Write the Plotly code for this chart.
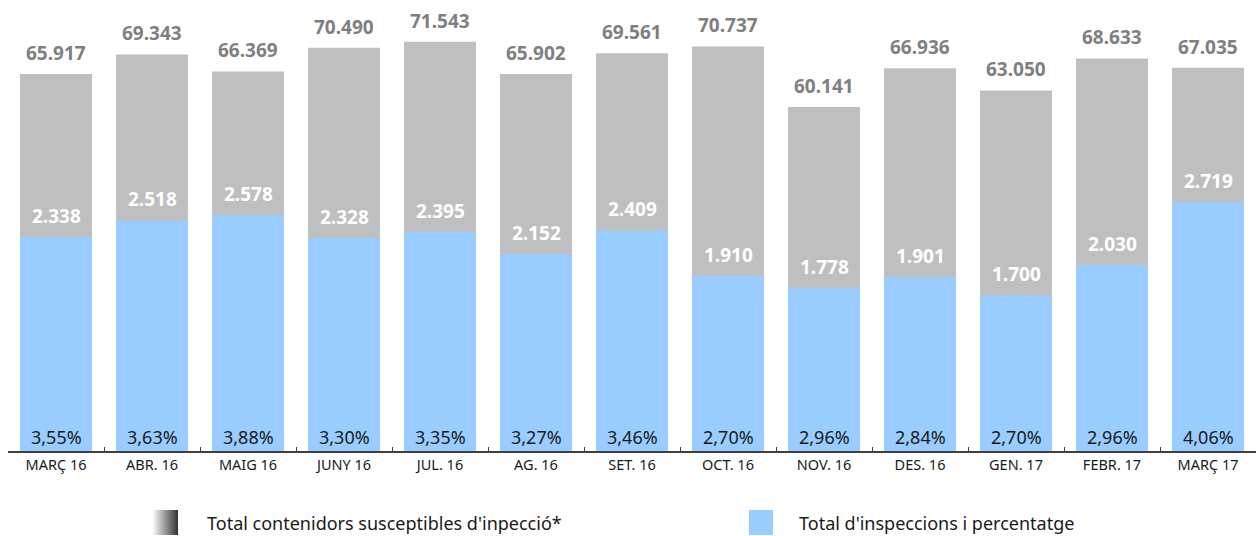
import plotly.graph_objects as go

months = ["MARÇ 16", "ABR. 16", "MAIG 16", "JUNY 16", "JUL. 16", "AG. 16", "SET. 16",
          "OCT. 16", "NOV. 16", "DES. 16", "GEN. 17", "FEBR. 17", "MARÇ 17"]
total_containers = [65917, 69343, 66369, 70490, 71543, 65902, 69561, 70737, 60141, 66936, 63050, 68633, 67035]
inspections = [2338, 2518, 2578, 2328, 2395, 2152, 2409, 1910, 1778, 1901, 1700, 2030, 2719]
percentages = ["3,55%", "3,63%", "3,88%", "3,30%", "3,35%", "3,27%", "3,46%",
               "2,70%", "2,96%", "2,84%", "2,70%", "2,96%", "4,06%"]
legend_names = ["Total contenidors susceptibles d'inpecció*", "Total d'inspeccions i percentatge"]

W, H = 1256, 536
ML, MR, MT, MB = 8, 0, 0, 85
PW, PH = W - ML - MR, H - MT - MB

def px(x):
    return (x - ML) / PW

def py(y):
    return (H - MB - y) / PH

def fmt(v):
    return f"{v:,}".replace(",", ".")

FONT = "Noto Sans"
GRAY = "#BFBFBF"
BLUE = "#99CCFF"

fig = go.Figure()
fig.add_trace(go.Bar(x=months, y=total_containers, marker=dict(color=GRAY, line=dict(width=0)),
                     name=legend_names[0], yaxis="y", showlegend=False, hoverinfo="skip"))
fig.add_trace(go.Bar(x=months, y=inspections, marker=dict(color=BLUE, line=dict(width=0)),
                     name=legend_names[1], yaxis="y2", showlegend=False, hoverinfo="skip"))

ann = []
for m, t, i, p in zip(months, total_containers, inspections, percentages):
    ann.append(dict(x=m, y=t, xref="x", yref="y", text=fmt(t), showarrow=False,
                    yanchor="bottom", yshift=6,
                    font=dict(family=FONT, size=19, color="#7F7F7F", weight="bold")))
    ann.append(dict(x=m, y=i, xref="x", yref="y2", text=fmt(i), showarrow=False,
                    yanchor="bottom", yshift=6,
                    font=dict(family=FONT, size=19, color="#FFFFFF", weight="bold")))
    ann.append(dict(x=m, y=0, xref="x", yref="y2", text=p, showarrow=False,
                    yanchor="bottom", yshift=0,
                    font=dict(family=FONT, size=18, color="#1A1A1A")))

shapes = []
# gradient legend swatch
n = 25
x0, y0, y1 = 153, 510, 535
for k in range(n):
    c = int(245 - (245 - 55) * k / (n - 1))
    shapes.append(dict(type="rect", xref="paper", yref="paper",
                       x0=px(x0 + k), x1=px(x0 + k + 1.05), y0=py(y1), y1=py(y0),
                       fillcolor=f"rgb({c},{c},{c})", line=dict(width=0), layer="above"))
shapes.append(dict(type="rect", xref="paper", yref="paper",
                   x0=px(749), x1=px(773), y0=py(535), y1=py(510),
                   fillcolor=BLUE, line=dict(width=0), layer="above"))
ann.append(dict(x=px(205), y=py(522.5), xref="paper", yref="paper", text=legend_names[0],
                showarrow=False, xanchor="left", yanchor="middle",
                font=dict(family=FONT, size=18, color="#1A1A1A")))
ann.append(dict(x=px(797), y=py(522.5), xref="paper", yref="paper", text=legend_names[1],
                showarrow=False, xanchor="left", yanchor="middle",
                font=dict(family=FONT, size=18, color="#1A1A1A")))

fig.update_layout(
    width=W, height=H,
    margin=dict(l=ML, r=MR, t=MT, b=MB),
    paper_bgcolor="white", plot_bgcolor="white",
    barmode="overlay", bargap=0.25,
    showlegend=False,
    annotations=ann, shapes=shapes,
    xaxis=dict(type="category", showline=True, linecolor="#404040", linewidth=2,
               ticks="inside", tickson="boundaries", ticklen=4, tickcolor="#404040", tickwidth=1,
               tickfont=dict(family=FONT, size=14.5, color="#1A1A1A"), showgrid=False, zeroline=False),
    yaxis=dict(range=[0, 78860], visible=False, showgrid=False, zeroline=False),
    yaxis2=dict(range=[0, 4925], overlaying="y", visible=False, showgrid=False, zeroline=False),
)

fig.write_html("out.html", config={"displayModeBar": False})
with open("out.html", encoding="utf-8") as f:
    html = f.read()
html = html.replace("<head>", "<head><style>html,body{margin:0;padding:0;overflow:hidden;}</style>", 1)
with open("out.html", "w", encoding="utf-8") as f:
    f.write(html)
